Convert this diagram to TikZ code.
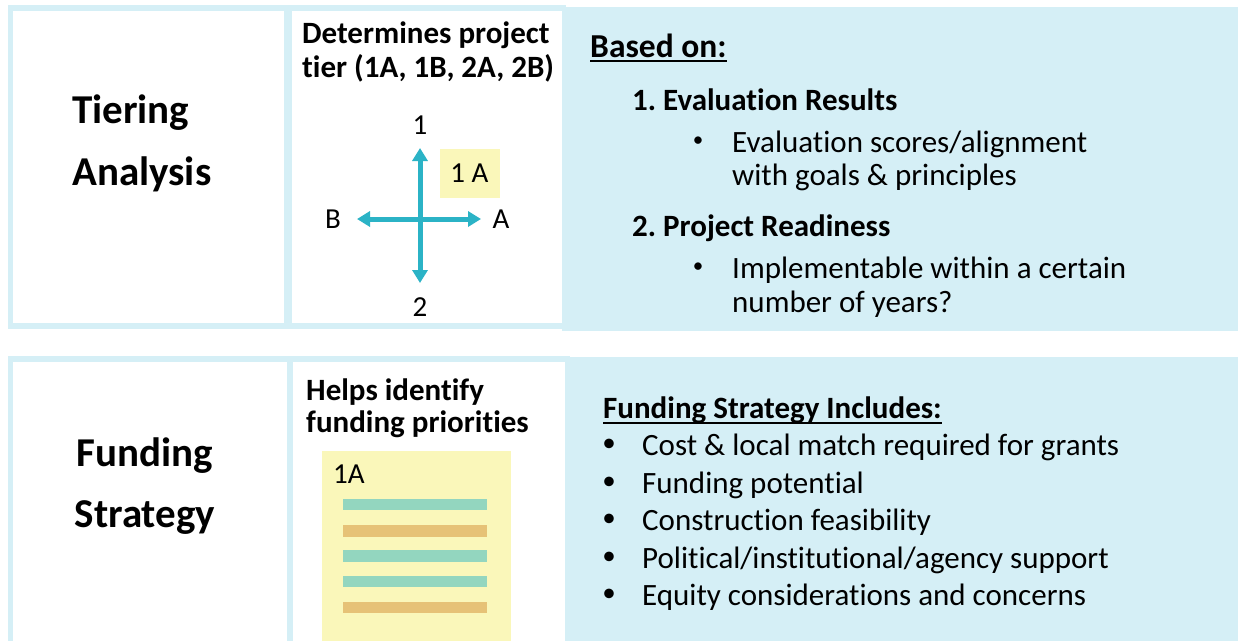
\documentclass[tikz,border=0pt]{standalone}
\usepackage{fontspec}
\setmainfont{Carlito}[Ligatures={NoCommon}]
\usetikzlibrary{arrows.meta}
\frenchspacing
\definecolor{lb}{HTML}{D5EFF6}
\definecolor{arrowc}{HTML}{2BB3C6}
\definecolor{yel}{HTML}{FAF7BA}
\definecolor{barg}{HTML}{93D6BF}
\definecolor{baro}{HTML}{E6C277}
\tikzset{
  txt/.style={inner sep=0pt, anchor=base west, font=\fontsize{31}{34}\selectfont},
  btxt/.style={inner sep=0pt, anchor=base west, font=\fontsize{31}{34}\selectfont\bfseries},
  ttl/.style={inner sep=0pt, anchor=base west, font=\fontsize{41}{44}\selectfont\bfseries},
  lbl/.style={inner sep=0pt, font=\fontsize{29}{30}\selectfont},
  bul/.style={inner sep=0pt, anchor=center, font=\fontsize{21}{22}\selectfont},
  bulb/.style={inner sep=0pt, anchor=center, font=\fontsize{27}{28}\selectfont},
  arr/.style={draw=arrowc, line width=5pt, {Triangle[width=15pt,length=13pt]}-{Triangle[width=15pt,length=13pt]}},
  ul/.style={line width=2pt}
}
\begin{document}
\begin{tikzpicture}[x=1pt,y=-1pt]
\useasboundingbox (0,0) rectangle (1238,641);
% ---------- row 1 frames ----------
\fill[lb] (8,5) rectangle (566,329);
\fill[white] (13,11) rectangle (284,323);
\fill[white] (292,11) rectangle (562,323);
\fill[lb] (562,7) rectangle (1238,331);
% ---------- row 2 frames ----------
\fill[lb] (8,356) rectangle (570,641);
\fill[white] (13,362) rectangle (287,641);
\fill[white] (293,362) rectangle (565,641);
\fill[lb] (565,357) rectangle (1238,641);

% ---------- row 1 left ----------
\node[ttl] (tier) at (72,123) {Tiering};
\node[ttl] (anal) at (72,185) {Analysis};

% ---------- row 1 middle ----------
\node[btxt] (det1) at (302,43) {Determines project};
\node[btxt] (det2) at (302,77) {tier (1A, 1B, 2A, 2B)};
\node[lbl] (l1) at (420,125) {1};
\node[lbl] (l2) at (420,307) {2};
\node[lbl] (lB) at (333,219) {B};
\node[lbl] (lA) at (501,219) {A};
\node[lbl, fill=yel, minimum width=60pt, minimum height=49pt] (q1a) at (469.5,173.5) {1 A};
\coordinate (vt) at (420,148);
\coordinate (vb) at (420,283);
\coordinate (hl) at (357,219);
\coordinate (hr) at (481,219);
\draw[arr] (vb) -- (vt);
\draw[arr] (hl) -- (hr);

% ---------- row 1 right ----------
\node[inner sep=0pt, anchor=base west, font=\fontsize{33.5}{36}\selectfont\bfseries] (based) at (590,57) {Based on:};
\draw[ul] ([yshift=-4pt]based.base west) -- ([yshift=-4pt]based.base east);
\node[btxt] (er) at (632,110) {1. Evaluation Results};
\node[bul] (b1) at (698,142) {•};
\node[txt] (er1) at (732,152) {Evaluation scores/alignment};
\node[txt] (er2) at (732,185) {with goals \& principles};
\node[btxt] (pr) at (632,236) {2. Project Readiness};
\node[bul] (b2) at (698,268) {•};
\node[txt] (pr1) at (732,278) {Implementable within a certain};
\node[txt] (pr2) at (732,312) {number of years?};

% ---------- row 2 left ----------
\node[inner sep=0pt, anchor=base, font=\fontsize{41}{44}\selectfont\bfseries] (fund) at (145,466) {Funding};
\node[inner sep=0pt, anchor=base, font=\fontsize{41}{44}\selectfont\bfseries] (strat) at (145,527) {Strategy};

% ---------- row 2 middle ----------
\node[btxt] (hi1) at (306,400) {Helps identify};
\node[btxt] (hi2) at (306,432) {funding priorities};
\fill[yel] (322,451) rectangle (511,641);
\node[inner sep=0pt, anchor=base west, font=\fontsize{29}{30}\selectfont] (one) at (333,483) {1A};
\fill[barg] (343,499) rectangle (487,510);
\fill[baro] (343,525) rectangle (487,537);
\fill[barg] (343,550) rectangle (487,562);
\fill[barg] (343,576) rectangle (487,587);
\fill[baro] (343,602) rectangle (487,613);

% ---------- row 2 right ----------
\node[btxt] (fsi) at (603,418) {Funding Strategy Includes:};
\draw[ul] ([yshift=-5pt]fsi.base west) -- ([yshift=-5pt]fsi.base east);
\node[bulb] (c1) at (609,445) {•};
\node[txt] (t1) at (642,455) {Cost \& local match required for grants};
\node[bulb] (c2) at (609,483) {•};
\node[txt] (t2) at (642,493) {Funding potential};
\node[bulb] (c3) at (609,520) {•};
\node[txt] (t3) at (642,530) {Construction feasibility};
\node[bulb] (c4) at (609,558) {•};
\node[txt] (t4) at (642,568) {Political/institutional/agency support};
\node[bulb] (c5) at (609,595) {•};
\node[txt] (t5) at (642,605) {Equity considerations and concerns};
\end{tikzpicture}
\end{document}
